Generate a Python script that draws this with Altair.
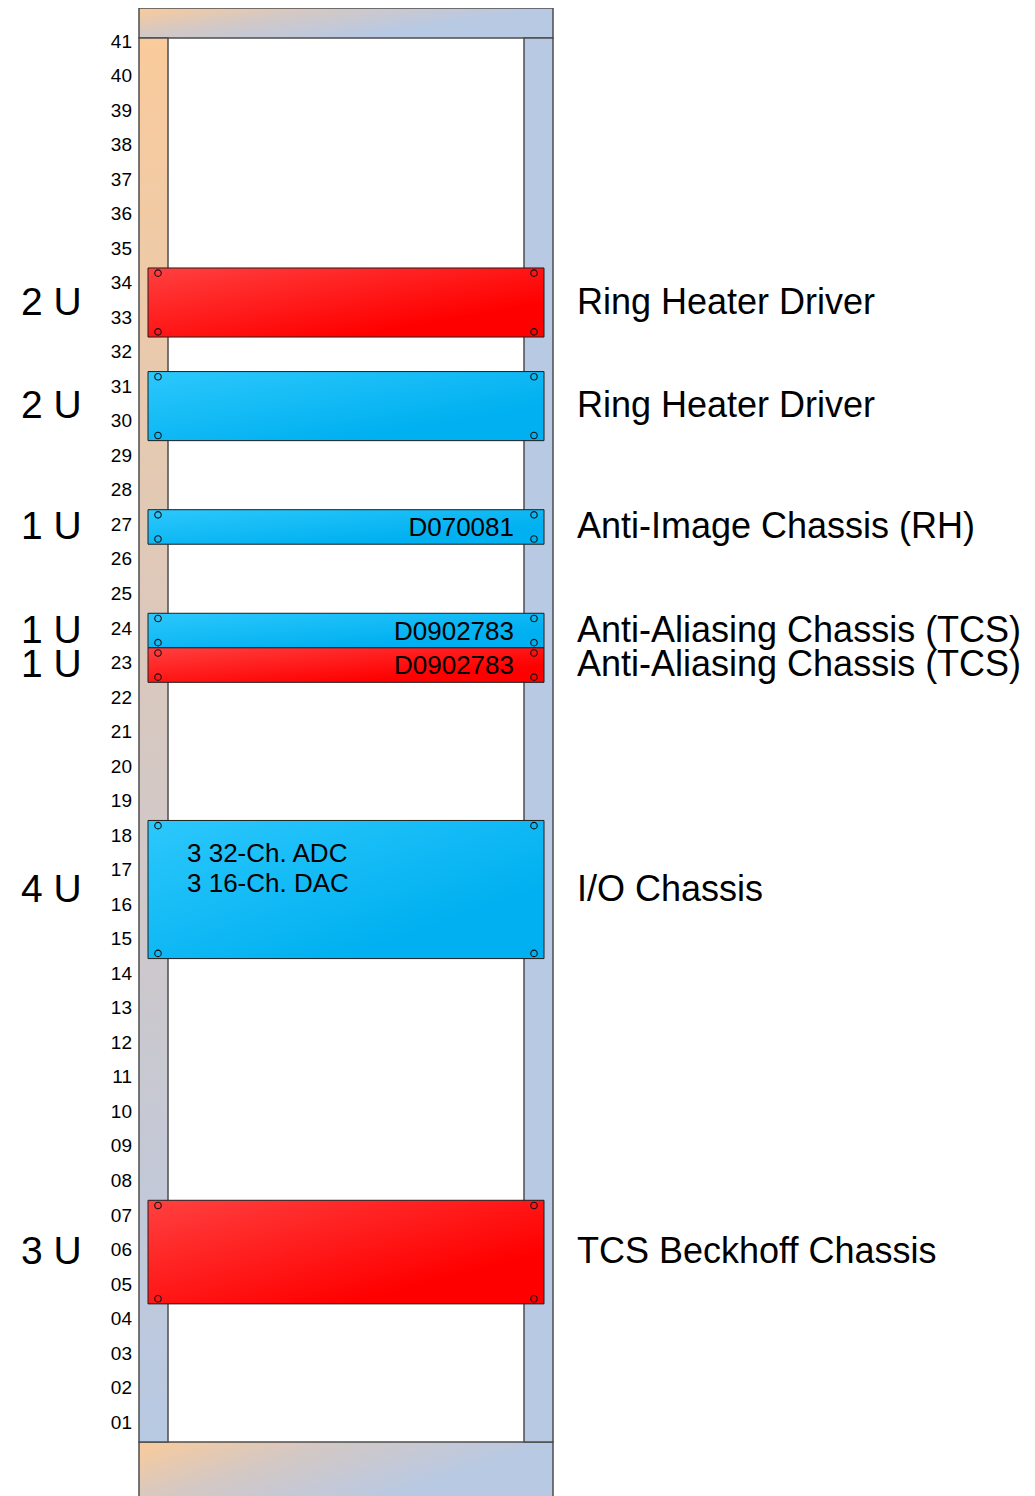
import altair as alt
import pandas as pd

# ---------------- data ----------------
DEV_NAMES = [
    "Ring Heater Driver",
    "Ring Heater Driver",
    "Anti-Image Chassis (RH)",
    "Anti-Aliasing Chassis (TCS)",
    "Anti-Aliasing Chassis (TCS)",
    "I/O Chassis",
    "TCS Beckhoff Chassis",
]
DEV_LOWEST_U = [33, 30, 27, 24, 23, 15, 5]
DEV_SIZE_U = [2, 2, 1, 1, 1, 4, 3]
DEV_KIND = ["red", "blue", "blue", "blue", "red", "blue", "red"]
DEV_PART = ["", "", "D070081", "D0902783", "D0902783", "", ""]
DEV_NOTE = ["", "", "", "", "", "3 32-Ch. ADC\n3 16-Ch. DAC", ""]

RACK_UNITS = 41
SLOT_NUMBERS = list(range(1, RACK_UNITS + 1))
SLOT_LABELS = [f"{n:02d}" for n in SLOT_NUMBERS]

# ---------------- layout (styles / geometry) ----------------
W, H = 1019, 1488
PX_PER_U = 34.53
BASE_PX = 1434                      # plot px (from top) of the bottom of U01
Y_TOP = BASE_PX / PX_PER_U
Y_BOT = (BASE_PX - H) / PX_PER_U
TOPBAR_LOW = (BASE_PX - 30) / PX_PER_U

RACK_L, RACK_R = 131, 545
RAIL_W = 29
DEV_L, DEV_R = 140, 536
SCREW_L, SCREW_R = 150, 526
SCREW_INSET = 0.15
SLOT_X = 124
UNIT_X = 13
NAME_X = 569
PART_X = 506
NOTE_X = 179
FONT = "Liberation Sans"

ORANGE = "#FACB9B"
STEEL = "#B8C9E3"
EDGE = "#4D4D4D"

xs = alt.Scale(domain=[0, W], nice=False, zero=False)
ys = alt.Scale(domain=[Y_BOT, Y_TOP], nice=False, zero=False)


def X(f):
    return alt.X(f, type="quantitative", scale=xs, axis=None)


def Y(f):
    return alt.Y(f, type="quantitative", scale=ys, axis=None)


# ---------------- tables ----------------
dev = pd.DataFrame({
    "name": DEV_NAMES,
    "lowest": DEV_LOWEST_U,
    "size": DEV_SIZE_U,
    "kind": DEV_KIND,
    "part": DEV_PART,
    "note": DEV_NOTE,
})
dev["y0"] = dev["lowest"] - 1
dev["y1"] = dev["y0"] + dev["size"]
dev["ym"] = (dev["y0"] + dev["y1"]) / 2
dev["ulabel"] = dev["size"].astype(str) + " U"
dev["xl"] = DEV_L
dev["xr"] = DEV_R
dev["xname"] = NAME_X
dev["xunit"] = UNIT_X
dev["xpart"] = PART_X
dev["xnote"] = NOTE_X

screw_rows = []
for _, r in dev.iterrows():
    for sx in (SCREW_L, SCREW_R):
        for sy in (r["y1"] - SCREW_INSET, r["y0"] + SCREW_INSET):
            screw_rows.append({"x": sx, "y": sy, "kind": r["kind"]})
screws = pd.DataFrame(screw_rows)

slots = pd.DataFrame({"label": SLOT_LABELS, "y": [n - 0.5 for n in SLOT_NUMBERS]})
slots["x"] = SLOT_X

frame = pd.DataFrame({
    "part": ["top", "bottom", "left", "right"],
    "x0": [RACK_L, RACK_L, RACK_L, RACK_R - RAIL_W],
    "x1": [RACK_R, RACK_R, RACK_L + RAIL_W, RACK_R],
    "y0": [TOPBAR_LOW, Y_BOT - 0.5, 0, 0],
    "y1": [Y_TOP, 0, TOPBAR_LOW, TOPBAR_LOW],
})

# ---------------- gradients ----------------
bar_grad = alt.LinearGradient(
    gradient="linear",
    stops=[alt.GradientStop(color=ORANGE, offset=0),
           alt.GradientStop(color="#D4C8C4", offset=0.45),
           alt.GradientStop(color=STEEL, offset=1)],
    x1=0, y1=0, x2=0.8, y2=0.4,
)
rail_grad = alt.LinearGradient(
    gradient="linear",
    stops=[alt.GradientStop(color=ORANGE, offset=0),
           alt.GradientStop(color="#D6C8C2", offset=0.5),
           alt.GradientStop(color=STEEL, offset=1)],
    x1=0, y1=0, x2=0, y2=1,
)
red_grad = alt.LinearGradient(
    gradient="linear",
    stops=[alt.GradientStop(color="#FF4040", offset=0),
           alt.GradientStop(color="#FF0000", offset=0.75)],
    x1=0, y1=0, x2=1, y2=1,
)
blue_grad = alt.LinearGradient(
    gradient="linear",
    stops=[alt.GradientStop(color="#2CC8FC", offset=0),
           alt.GradientStop(color="#00B0F0", offset=0.75)],
    x1=0, y1=0, x2=1, y2=1,
)


def frame_layer(which, fill):
    return alt.Chart(frame[frame["part"] == which]).mark_rect(
        fill=fill, stroke=EDGE, strokeWidth=1.5
    ).encode(x=X("x0"), x2="x1", y=Y("y0"), y2="y1")


top_bar = frame_layer("top", bar_grad)
bottom_bar = frame_layer("bottom", bar_grad)
left_rail = frame_layer("left", rail_grad)
right_rail = frame_layer("right", STEEL)


def dev_layer(kind, fill):
    return alt.Chart(dev[dev["kind"] == kind]).mark_rect(
        fill=fill, stroke="#1E1E1E", strokeWidth=1
    ).encode(x=X("xl"), x2="xr", y=Y("y0"), y2="y1")


blue_devs = dev_layer("blue", blue_grad)
red_devs = dev_layer("red", red_grad)

screw_layer = alt.Chart(screws).mark_point(
    shape="circle", filled=False, size=42, stroke="#111111", strokeWidth=1.1, opacity=1
).encode(x=X("x"), y=Y("y"))

slot_text = alt.Chart(slots).mark_text(
    align="right", baseline="middle", font=FONT, fontSize=19, color="black", dy=-2
).encode(x=X("x"), y=Y("y"), text="label:N")

unit_text = alt.Chart(dev).mark_text(
    align="left", baseline="middle", font=FONT, fontSize=39, color="black"
).encode(x=X("xunit"), y=Y("ym"), text="ulabel:N")

name_text = alt.Chart(dev).mark_text(
    align="left", baseline="middle", font=FONT, fontSize=36, color="black"
).encode(x=X("xname"), y=Y("ym"), text="name:N")

part_text = alt.Chart(dev[dev["part"] != ""]).mark_text(
    align="right", baseline="middle", font=FONT, fontSize=26, color="black", dy=1
).encode(x=X("xpart"), y=Y("ym"), text="part:N")

note_text = alt.Chart(dev[dev["note"] != ""]).mark_text(
    align="left", baseline="top", font=FONT, fontSize=26, color="black",
    lineBreak="\n", lineHeight=30, dy=21
).encode(x=X("xnote"), y=Y("y1"), text="note:N")

chart = alt.layer(
    top_bar, bottom_bar, left_rail, right_rail,
    blue_devs, red_devs, screw_layer,
    slot_text, unit_text, name_text, part_text, note_text,
).properties(
    width=W, height=H, padding=0,
    autosize=alt.AutoSizeParams(type="none"),
).configure_view(stroke=None)

chart.save("out.html", embed_options={"renderer": "svg", "actions": False})
